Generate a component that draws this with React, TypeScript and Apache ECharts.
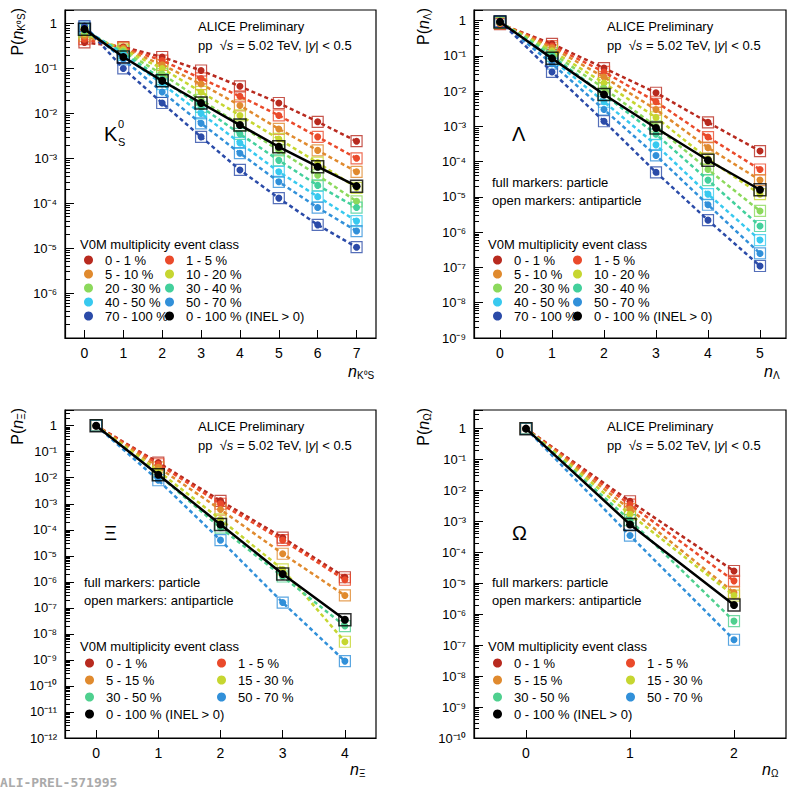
import { useRef, useEffect } from "react";
import * as echarts from "echarts";

const FONT = "Liberation Sans";

const COLORS: Record<string, string> = {
  "0 - 1 %": "#b82a1f",
  "1 - 5 %": "#ea4a2b",
  "5 - 10 %": "#e08a2e",
  "5 - 15 %": "#e08a2e",
  "10 - 20 %": "#c6d631",
  "15 - 30 %": "#c6d631",
  "20 - 30 %": "#8cd95c",
  "30 - 40 %": "#43d09c",
  "30 - 50 %": "#4fd08f",
  "40 - 50 %": "#38c9ef",
  "50 - 70 %": "#3190d9",
  "70 - 100 %": "#2b4ba8",
  "0 - 100 % (INEL > 0)": "#000000",
};
const INEL = "0 - 100 % (INEL > 0)";

// K0S, n = 0..7
const k0sN = [0, 1, 2, 3, 4, 5, 6, 7];
const k0sClasses = ["0 - 1 %", "1 - 5 %", "5 - 10 %", "10 - 20 %", "20 - 30 %", "30 - 40 %", "40 - 50 %", "50 - 70 %", "70 - 100 %"];
const k0sValues = [
  [0.38, 0.3, 0.18, 0.09, 0.04, 0.017, 0.0065, 0.0024],
  [0.45, 0.29, 0.15, 0.06, 0.024, 0.009, 0.003, 0.001],
  [0.53, 0.28, 0.12, 0.045, 0.015, 0.0045, 0.0015, 0.0005],
  [0.6, 0.26, 0.1, 0.03, 0.009, 0.0027, 0.0008, 0.00022],
  [0.66, 0.24, 0.075, 0.02, 0.0055, 0.0015, 0.00042, 0.00011],
  [0.72, 0.22, 0.058, 0.014, 0.0035, 0.0009, 0.00025, 0.00008],
  [0.76, 0.2, 0.045, 0.01, 0.0022, 0.0005, 0.00014, 0.00004],
  [0.82, 0.16, 0.03, 0.006, 0.0013, 0.0003, 0.00008, 0.000024],
  [0.88, 0.1, 0.017, 0.003, 0.00055, 0.00013, 0.000033, 0.0000105],
];
const k0sInel = [0.75, 0.18, 0.053, 0.017, 0.0055, 0.0018, 0.00065, 0.00024];

// Lambda, n = 0..5
const lamN = [0, 1, 2, 3, 4, 5];
const lamClasses = k0sClasses;
const lamValues = [
  [0.8, 0.22, 0.045, 0.009, 0.0013, 0.0002],
  [0.83, 0.19, 0.035, 0.005, 0.0005, 0.00006],
  [0.85, 0.17, 0.025, 0.003, 0.00025, 0.00003],
  [0.87, 0.14, 0.017, 0.0018, 0.00012, 0.000012],
  [0.89, 0.12, 0.012, 0.001, 0.00006, 0.000004],
  [0.91, 0.1, 0.008, 0.0006, 0.00003, 0.0000015],
  [0.92, 0.08, 0.005, 0.0003, 0.000012, 0.0000006],
  [0.94, 0.06, 0.003, 0.00015, 0.000006, 0.00000025],
  [0.96, 0.035, 0.0014, 0.00005, 0.0000022, 0.00000011],
];
const lamInel = [0.92, 0.085, 0.008, 0.0009, 0.00011, 0.000016];

// Xi, n = 0..4
const xiN = [0, 1, 2, 3, 4];
const xiClasses = ["0 - 1 %", "1 - 5 %", "5 - 15 %", "15 - 30 %", "30 - 50 %", "50 - 70 %"];
const xiValues = [
  [1, 0.038, 0.0013, 0.00005, 0.0000015],
  [1, 0.033, 0.001, 0.00004, 0.0000012],
  [1, 0.025, 0.0006, 0.000012, 0.0000003],
  [1, 0.018, 0.00025, 0.000003, 0.000000005],
  [1, 0.013, 0.00012, 0.0000016, 0.00000002],
  [1, 0.008, 0.00004, 0.00000016, 0.0000000009],
];
const xiInel = [1, 0.013, 0.00016, 0.000002, 0.000000035];

// Omega, n = 0..2
const omN = [0, 1, 2];
const omClasses = xiClasses;
const omValues = [
  [1, 0.0045, 0.000025],
  [1, 0.0035, 0.000012],
  [1, 0.0025, 0.000005],
  [1, 0.0017, 0.000004],
  [1, 0.0011, 0.0000006],
  [1, 0.00035, 0.00000015],
];
const omInel = [1, 0.0008, 0.000002];

const SUP: Record<string, string> = { "-": "⁻", "0": "⁰", "1": "¹", "2": "²", "3": "³", "4": "⁴", "5": "⁵", "6": "⁶", "7": "⁷", "8": "⁸", "9": "⁹" };
const logLabel = (v: number) => {
  const e = Math.round(Math.log10(v));
  if (e === 0) return "1";
  return "10" + String(e).split("").map((c) => SUP[c]).join("");
};

const grids = [
  { left: 65, top: 10, width: 311, height: 328 },
  { left: 474, top: 10, width: 312, height: 328 },
  { left: 65, top: 410, width: 311, height: 328 },
  { left: 474, top: 410, width: 312, height: 328 },
];

function panelSeries(gi: number, ns: number[], classes: string[], values: number[][], inel: number[]) {
  const out: any[] = [];
  classes.forEach((name, i) => {
    const data = ns.map((n, j) => [n, values[i][j]]);
    out.push({
      name, type: "line", xAxisIndex: gi, yAxisIndex: gi, data,
      symbol: "circle", symbolSize: 7, color: COLORS[name],
      lineStyle: { type: [4, 3], width: 2.5, color: COLORS[name] },
    });
    out.push({
      name, type: "scatter", xAxisIndex: gi, yAxisIndex: gi, data,
      symbol: "rect", symbolSize: 11, z: 1,
      itemStyle: { color: "transparent", borderColor: COLORS[name], borderWidth: 1.2 },
    });
  });
  const data = ns.map((n, j) => [n, inel[j]]);
  out.push({
    name: INEL, type: "line", xAxisIndex: gi, yAxisIndex: gi, data, z: 5,
    symbol: "circle", symbolSize: 8, color: "#000", lineStyle: { width: 2.5, color: "#000" },
  });
  out.push({
    name: INEL, type: "scatter", xAxisIndex: gi, yAxisIndex: gi, data, z: 5,
    symbol: "rect", symbolSize: 12,
    itemStyle: { color: "transparent", borderColor: "#000", borderWidth: 1.5 },
  });
  return out;
}

function xAxis(gi: number, max: number, ticks: number[]) {
  return {
    type: "value", gridIndex: gi, min: -0.5, max,
    axisLine: { show: true, onZero: false, lineStyle: { color: "#000", width: 1.2 } },
    axisTick: { show: true, inside: true, length: 8, customValues: ticks, lineStyle: { color: "#000" } },
    axisLabel: { customValues: ticks, color: "#000", fontSize: 14, fontFamily: FONT, margin: 8 },
    splitLine: { show: false },
  };
}

function yAxis(gi: number, min: number, max: number, showMin: boolean) {
  return {
    type: "log", logBase: 10, gridIndex: gi, min, max, interval: 1,
    axisLine: { show: true, onZero: false, lineStyle: { color: "#000", width: 1.2 } },
    axisTick: { show: true, inside: true, length: 9, lineStyle: { color: "#000" } },
    minorTick: { show: true, splitNumber: 9, length: 5, lineStyle: { color: "#000" } },
    axisLabel: { interval: 0, color: "#000", fontSize: 13, fontFamily: FONT, formatter: logLabel, showMinLabel: showMin, showMaxLabel: false },
    splitLine: { show: false },
  };
}

function legendCol(left: number, top: number, names: string[], gap: number) {
  return {
    left, top, orient: "vertical", data: names, icon: "circle", itemWidth: 9, itemHeight: 9,
    itemGap: gap, selectedMode: false, padding: 0,
    textStyle: { fontSize: 13, fontFamily: FONT, color: "#000", lineHeight: 14, padding: [0, 0, 0, 7] },
  };
}

const rich = {
  n: { fontSize: 16, fontStyle: "italic", fontFamily: FONT },
  b: { fontSize: 16, fontFamily: FONT },
  s: { fontSize: 10, fontFamily: FONT, padding: [8, 0, 0, 0] },
  t: { fontSize: 13, fontFamily: FONT },
  ti: { fontSize: 13, fontFamily: FONT, fontStyle: "italic" },
};

function txt(x: number, y: number, text: string, extra: any = {}) {
  return { type: "text", x, y, silent: true, style: { text, rich, fill: "#000", font: `13px ${FONT}`, ...extra } };
}

function header(x: number, y: number) {
  return [
    txt(x, y, "ALICE Preliminary"),
    txt(x, y + 19, "{t|pp  √}{ti|s}{t| = 5.02 TeV, |}{ti|y}{t|| < 0.5}"),
  ];
}

function markersNote(x: number, y: number) {
  return [txt(x, y, "full markers: particle"), txt(x, y + 18, "open markers: antiparticle")];
}

export default function App() {
  const ref = useRef<HTMLDivElement>(null);

  useEffect(() => {
    document.body.style.margin = "0";
    if (!ref.current) return;
    const chart = echarts.init(ref.current, null, { renderer: "svg" });

    const legends = [
      legendCol(84, 253, ["0 - 1 %", "5 - 10 %", "20 - 30 %", "40 - 50 %", "70 - 100 %"], 0),
      legendCol(165, 253, ["1 - 5 %", "10 - 20 %", "30 - 40 %", "50 - 70 %", INEL], 0),
      legendCol(493, 253, ["0 - 1 %", "5 - 10 %", "20 - 30 %", "40 - 50 %", "70 - 100 %"], 0),
      legendCol(573, 253, ["1 - 5 %", "10 - 20 %", "30 - 40 %", "50 - 70 %", INEL], 0),
      legendCol(85, 656, ["0 - 1 %", "5 - 15 %", "30 - 50 %", INEL], 3),
      legendCol(217, 656, ["1 - 5 %", "15 - 30 %", "50 - 70 %"], 3),
      legendCol(493, 656, ["0 - 1 %", "5 - 15 %", "30 - 50 %", INEL], 3),
      legendCol(626, 656, ["1 - 5 %", "15 - 30 %", "50 - 70 %"], 3),
    ];

    const yTitle = (x: number, y: number, text: string) => ({
      type: "text", x, y, rotation: Math.PI / 2, silent: true,
      style: { text, rich, fill: "#000", align: "right", verticalAlign: "top" },
    });

    chart.setOption({
      animation: false,
      textStyle: { fontFamily: FONT },
      grid: grids.map((g) => ({ ...g, show: true, borderColor: "#000", borderWidth: 1.2, backgroundColor: "transparent" })),
      xAxis: [xAxis(0, 7.5, k0sN), xAxis(1, 5.5, lamN), xAxis(2, 4.5, xiN), xAxis(3, 2.5, omN)],
      yAxis: [yAxis(0, 1e-7, 2, false), yAxis(1, 1e-9, 2, true), yAxis(2, 1e-12, 4, true), yAxis(3, 1e-10, 4, true)],
      legend: legends,
      series: [
        ...panelSeries(0, k0sN, k0sClasses, k0sValues, k0sInel),
        ...panelSeries(1, lamN, lamClasses, lamValues, lamInel),
        ...panelSeries(2, xiN, xiClasses, xiValues, xiInel),
        ...panelSeries(3, omN, omClasses, omValues, omInel),
      ],
      graphic: [
        ...header(198, 20), ...header(607, 20), ...header(198, 420), ...header(607, 420),
        txt(80, 238, "V0M multiplicity event class"),
        txt(488, 238, "V0M multiplicity event class"),
        txt(80, 640, "V0M multiplicity event class"),
        txt(488, 640, "V0M multiplicity event class"),
        ...markersNote(492, 176), ...markersNote(84, 576), ...markersNote(492, 576),
        txt(104, 124, "K", { font: `20px ${FONT}` }),
        txt(118, 118, "0", { font: `11px ${FONT}` }),
        txt(118, 136, "S", { font: `11px ${FONT}` }),
        txt(512, 124, "Λ", { font: `20px ${FONT}` }),
        txt(104, 523, "Ξ", { font: `20px ${FONT}` }),
        txt(512, 523, "Ω", { font: `20px ${FONT}` }),
        yTitle(8, 8, "{b|P(}{n|n}{s|K⁰S}{b|)}"),
        yTitle(414, 8, "{b|P(}{n|n}{s|Λ}{b|)}"),
        yTitle(8, 408, "{b|P(}{n|n}{s|Ξ}{b|)}"),
        yTitle(414, 408, "{b|P(}{n|n}{s|Ω}{b|)}"),
        txt(348, 362, "{n|n}{s|K⁰S}"),
        txt(764, 362, "{n|n}{s|Λ}"),
        txt(350, 760, "{n|n}{s|Ξ}"),
        txt(762, 760, "{n|n}{s|Ω}"),
        { type: "text", x: 0, y: 776, silent: true, style: { text: "ALI-PREL-571995", fill: "#aaa", font: `bold 13px "DejaVu Sans Mono"` } },
      ],
    });

    return () => chart.dispose();
  }, []);

  return <div ref={ref} style={{ width: 800, height: 790 }} />;
}
